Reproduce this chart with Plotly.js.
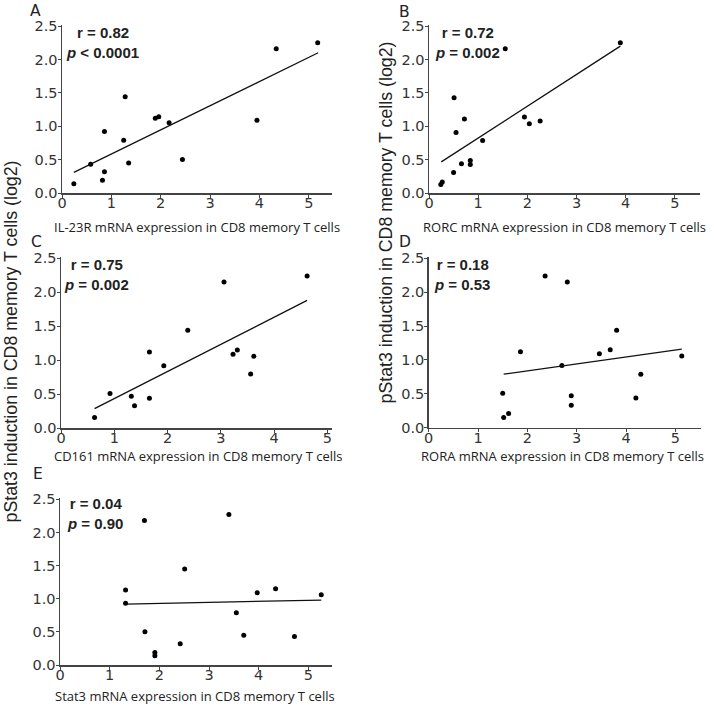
<!DOCTYPE html>
<html>
<head>
<meta charset="utf-8">
<script src="https://cdn.plot.ly/plotly-3.0.1.min.js"></script>
<style>html,body{margin:0;padding:0;background:#fff;}#chart{width:714px;height:706px;}</style>
</head>
<body>
<div id="chart"></div>
<script>
// ---------- data ----------
const panelLetters = ['A', 'B', 'C', 'D', 'E'];
const xTitles = [
  'IL-23R mRNA expression in CD8 memory T cells',
  'RORC mRNA expression in CD8 memory T cells',
  'CD161 mRNA expression in CD8 memory T cells',
  'RORA mRNA expression in CD8 memory T cells',
  'Stat3 mRNA expression in CD8 memory T cells'
];
const yTitle = 'pStat3 induction in CD8 memory T cells (log2)';
const rValues = ['0.82', '0.72', '0.75', '0.18', '0.04'];
const pTexts = ['< 0.0001', '= 0.002', '= 0.002', '= 0.53', '= 0.90'];

const il23rX = [0.24, 0.58, 0.82, 0.86, 0.86, 1.25, 1.28, 1.35, 1.89, 1.96, 2.17, 2.44, 3.95, 4.34, 5.18];
const il23rY = [0.14, 0.43, 0.19, 0.32, 0.92, 0.79, 1.44, 0.45, 1.12, 1.14, 1.05, 0.50, 1.09, 2.16, 2.25];
const il23rFitX = [0.24, 5.19];
const il23rFitY = [0.31, 2.10];

const rorcX = [0.24, 0.27, 0.50, 0.51, 0.55, 0.66, 0.72, 0.84, 0.84, 1.09, 1.55, 1.94, 2.04, 2.26, 3.89];
const rorcY = [0.13, 0.17, 0.31, 1.43, 0.91, 0.44, 1.11, 0.49, 0.43, 0.79, 2.16, 1.14, 1.04, 1.08, 2.25];
const rorcFitX = [0.25, 3.89];
const rorcFitY = [0.47, 2.20];

const cd161X = [0.63, 0.92, 1.32, 1.38, 1.66, 1.66, 1.93, 2.38, 3.06, 3.23, 3.31, 3.56, 3.62, 4.62];
const cd161Y = [0.16, 0.51, 0.47, 0.33, 0.44, 1.12, 0.92, 1.44, 2.15, 1.09, 1.15, 0.80, 1.06, 2.24];
const cd161FitX = [0.63, 4.62];
const cd161FitY = [0.29, 1.88];

const roraX = [1.50, 1.52, 1.62, 1.86, 2.36, 2.70, 2.81, 2.89, 2.89, 3.46, 3.68, 3.81, 4.20, 4.30, 5.13];
const roraY = [0.51, 0.15, 0.21, 1.12, 2.24, 0.92, 2.15, 0.47, 0.33, 1.09, 1.15, 1.44, 0.44, 0.79, 1.06];
const roraFitX = [1.52, 5.13];
const roraFitY = [0.79, 1.16];

const stat3X = [1.32, 1.32, 1.70, 1.71, 1.91, 1.91, 2.42, 2.51, 3.40, 3.55, 3.70, 3.97, 4.34, 4.72, 5.26];
const stat3Y = [1.13, 0.93, 2.18, 0.50, 0.19, 0.14, 0.32, 1.45, 2.27, 0.79, 0.45, 1.09, 1.15, 0.43, 1.06];
const stat3FitX = [1.33, 5.26];
const stat3FitY = [0.92, 0.98];

const xRanges = [[0, 5.47], [0, 5.51], [0, 5.08], [0, 5.51], [0, 5.48]];
const yRange = [0, 2.52];

// ---------- layout geometry (pixels) ----------
const W = 714, H = 706;
const px = v => v / W;
const py = v => 1 - v / H;
// [left, right, top, bottom] of each plot area in pixels
const boxes = [
  [62, 332, 24.7, 193],
  [429, 700, 24.7, 193.3],
  [61, 331.6, 256.9, 428.3],
  [428.7, 700.5, 257, 427.7],
  [60, 332.2, 498, 665]
];
const letterPos = [[35.5, 11], [404.5, 11.5], [36, 241.5], [404.5, 241.5], [37.5, 473.5]];
const rpPos = [[102, 42], [467, 42], [97, 274], [462, 274], [95, 513]];
const xTitlePos = [[197, 226.5], [564, 226.5], [198, 455.5], [562, 455.5], [195, 695.5]];

const sets = [
  [il23rX, il23rY, il23rFitX, il23rFitY],
  [rorcX, rorcY, rorcFitX, rorcFitY],
  [cd161X, cd161Y, cd161FitX, cd161FitY],
  [roraX, roraY, roraFitX, roraFitY],
  [stat3X, stat3Y, stat3FitX, stat3FitY]
];

const tickFont = {family: 'DejaVu Sans', size: 14.5, color: '#333'};
const traces = [];
const layout = {
  width: W, height: H,
  margin: {l: 0, r: 0, t: 0, b: 0},
  paper_bgcolor: '#fff', plot_bgcolor: 'rgba(0,0,0,0)',
  showlegend: false,
  annotations: []
};

sets.forEach((s, i) => {
  const n = i === 0 ? '' : String(i + 1);
  const xa = 'x' + n, ya = 'y' + n;
  traces.push({
    type: 'scatter', mode: 'markers', x: s[0], y: s[1], xaxis: xa, yaxis: ya,
    marker: {color: '#000', size: 5}, cliponaxis: false, hoverinfo: 'skip'
  });
  traces.push({
    type: 'scatter', mode: 'lines', x: s[2], y: s[3], xaxis: xa, yaxis: ya,
    line: {color: '#111', width: 1.3}, hoverinfo: 'skip'
  });
  const b = boxes[i];
  layout['xaxis' + n] = {
    domain: [px(b[0]), px(b[1])], range: xRanges[i], anchor: ya,
    showgrid: false, zeroline: false, showline: true, linecolor: '#444', linewidth: 1.5,
    ticks: 'outside', ticklen: 3, tickwidth: 1, tickcolor: '#444', ticklabelstandoff: -7,
    tick0: 0, dtick: 1, tickfont: tickFont, automargin: false, fixedrange: true
  };
  layout['yaxis' + n] = {
    domain: [py(b[3]), py(b[2])], range: yRange, anchor: xa,
    showgrid: false, zeroline: false, showline: true, linecolor: '#444', linewidth: 1.5,
    ticks: 'outside', ticklen: 3, tickwidth: 1, tickcolor: '#444', ticklabelstandoff: -3,
    tick0: 0, dtick: 0.5, tickformat: '.1f', tickfont: tickFont, automargin: false, fixedrange: true
  };
  layout.annotations.push({
    xref: 'paper', yref: 'paper', x: px(letterPos[i][0]), y: py(letterPos[i][1]),
    xanchor: 'center', yanchor: 'middle', showarrow: false, text: panelLetters[i],
    font: {family: 'DejaVu Sans', size: 15.5, color: '#222'}
  });
  layout.annotations.push({
    xref: 'paper', yref: 'paper', x: px(rpPos[i][0]), y: py(rpPos[i][1]),
    xanchor: 'center', yanchor: 'middle', align: 'center', showarrow: false,
    text: '<b>r = ' + rValues[i] + '</b><br><b><i>p</i> ' + pTexts[i] + '</b>',
    font: {family: 'Liberation Sans', size: 15, color: '#222'}
  });
  layout.annotations.push({
    xref: 'paper', yref: 'paper', x: px(xTitlePos[i][0]), y: py(xTitlePos[i][1]),
    xanchor: 'center', yanchor: 'middle', showarrow: false, text: xTitles[i],
    font: {family: 'Open Sans', size: 13, color: '#222'}
  });
});

// shared y titles
layout.annotations.push({
  xref: 'paper', yref: 'paper', x: px(10.5), y: py(342), xanchor: 'center', yanchor: 'middle',
  textangle: -90, showarrow: false, text: yTitle,
  font: {family: 'Liberation Sans', size: 17.8, color: '#222'}
});
layout.annotations.push({
  xref: 'paper', yref: 'paper', x: px(385.5), y: py(223), xanchor: 'center', yanchor: 'middle',
  textangle: -90, showarrow: false, text: yTitle,
  font: {family: 'Liberation Sans', size: 17.8, color: '#222'}
});

Plotly.newPlot('chart', traces, layout, {displayModeBar: false, staticPlot: true});
</script>
</body>
</html>
